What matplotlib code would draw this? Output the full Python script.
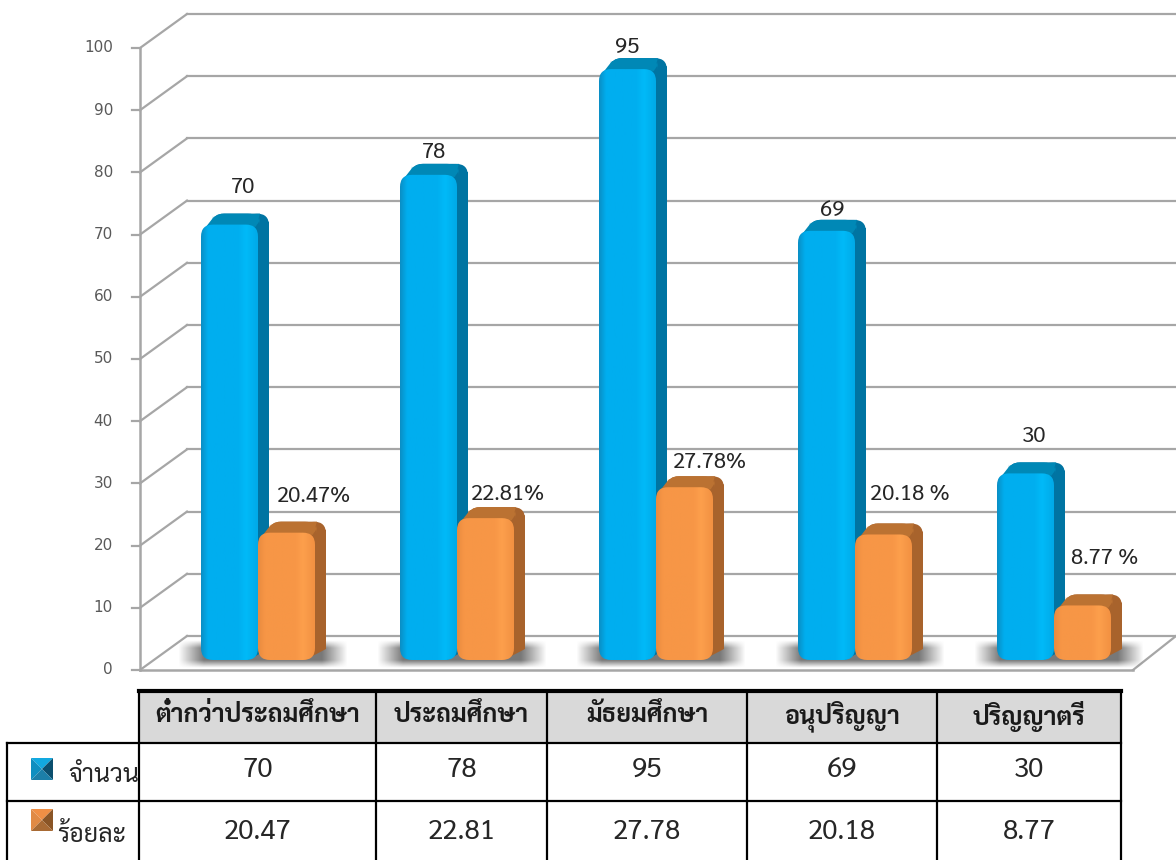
import numpy as np
import matplotlib
matplotlib.use("Agg")
from matplotlib import pyplot as plt
from matplotlib.patches import FancyBboxPatch, Polygon, Rectangle

categories = ["ต่ำกว่าประถมศึกษา", "ประถมศึกษา", "มัธยมศึกษา", "อนุปริญญา", "ปริญญาตรี"]
counts = [70, 78, 95, 69, 30]
percents = [20.47, 22.81, 27.78, 20.18, 8.77]
count_labels = ["70", "78", "95", "69", "30"]
percent_labels = ["20.47%", "22.81%", "27.78%", "20.18 %", "8.77 %"]
table_percents = ["20.47", "22.81", "27.78", "20.18", "8.77"]
series_names = ["จำนวน", "ร้อยละ"]
y_ticks = [0, 10, 20, 30, 40, 50, 60, 70, 80, 90, 100]

plt.rcParams["font.family"] = ["Sarabun", "Anuphan", "DejaVu Sans"]

W, H = 1176, 860
PX = 1 / 199.0      # x data per pixel
PY = 1 / 6.22       # y data per pixel

fig = plt.figure(figsize=(W / 100, H / 100), dpi=100)
ax = fig.add_axes([0, 0, 1, 1])
ax.axis("off")

GRID = "#a6a6a6"
front_x = -118 * PX
back_x = -71 * PX
right_x = (W - 258) * PX
drop = 10 * PY          # front wall sits 10px under the bars
rise = 34 * PY

for v in y_ticks:
    y = v - drop
    ax.plot([front_x, back_x], [y, y + rise], color=GRID, lw=1.6, zorder=1)
    ax.plot([back_x, right_x], [y + rise, y + rise], color=GRID, lw=1.6, zorder=1)
    ax.plot([front_x - 8 * PX, front_x], [y, y], color=GRID, lw=1.6, zorder=1)
    ax.text(front_x - 27 * PX, y, str(v), ha="right", va="center", fontsize=11,
            color="#595959", family="DejaVu Sans")
ax.plot([front_x, front_x], [-drop, 100 - drop], color=GRID, lw=1.8, zorder=1)
ax.plot([front_x, 875 * PX], [-drop, -drop], color=GRID, lw=1.8, zorder=1)
ax.plot([875 * PX, 918 * PX], [-drop, -drop + rise], color=GRID, lw=1.6, zorder=1)

BLUE = dict(front=["#0a8fc6", "#00aeef", "#00aeef", "#00baf8", "#00aae8"], side="#0074a2", top="#0088b6")
ORANGE = dict(front=["#e98b40", "#f79646", "#f79646", "#fd9f4c", "#f29142"], side="#a8632c", top="#bb7232")


def gradient(colors):
    rgb = np.array([matplotlib.colors.to_rgb(c) for c in colors])
    t = np.linspace(0, 1, 64)
    stops = np.array([0, 0.12, 0.65, 0.8, 1])
    return np.stack([np.interp(t, stops, rgb[:, k]) for k in range(3)], axis=1)[None, :, :]


def shadow(x0, x1):
    # soft grey shadow lying on the floor under a pair of bars
    gx, gy = np.meshgrid(np.linspace(-1, 1, 160), np.linspace(-1, 1, 40))
    edge_x = np.clip((1 - np.abs(gx)) / 0.3, 0, 1)
    edge_y = np.clip((1 - np.abs(gy)) / 0.55, 0, 1)
    img = np.zeros((40, 160, 4))
    img[..., :3] = 0.38
    img[..., 3] = edge_x * edge_y * 0.85
    ax.imshow(img, extent=[x0, x1, -8 * PY, 20 * PY], aspect="auto", zorder=2, interpolation="bilinear")


def bar3d(x, w, v, style, z):
    d = 11 * PX
    e = 11 * PY
    rx = 12 * PX
    asp = PY / PX
    box = dict(boxstyle=f"round,pad=0,rounding_size={rx}", mutation_aspect=asp, linewidth=0)
    # side wall: back box plus the strip joining it to the front face
    ax.add_patch(FancyBboxPatch((x + d, e), w, v, facecolor=style["side"], zorder=z, **box))
    ax.add_patch(Polygon([(x + w - 10 * PX, 0), (x + w + d, e), (x + w + d, v + e - 8 * PY), (x + w - 4 * PX, v)],
                         facecolor=style["side"], linewidth=0, zorder=z))
    # top face
    top = FancyBboxPatch((x + d, v + e - 14 * PY), w - 9 * PX, 14 * PY, facecolor=style["top"], zorder=z, **box)
    ax.add_patch(top)
    ax.add_patch(Polygon([(x + 2 * PX, v - 6 * PY), (x + d + 2 * PX, v + e - 3 * PY), (x + w + 2 * PX, v + e),
                          (x + w - 2 * PX, v - 2 * PY)], facecolor=style["top"], linewidth=0, zorder=z))
    # front with horizontal shading
    front = FancyBboxPatch((x, 0), w, v, facecolor="none", zorder=z + 1, **box)
    ax.add_patch(front)
    im = ax.imshow(gradient(style["front"]), extent=[x, x + w, 0, v], aspect="auto", zorder=z + 1,
                   interpolation="bilinear")
    im.set_clip_path(front)


bar_w = 57 * PX
for i in range(len(categories)):
    shadow(i - 80 * PX, i + 90 * PX)
    bar3d(i - bar_w, bar_w, counts[i], BLUE, 3)
    bar3d(i, bar_w, percents[i], ORANGE, 5)

# value labels are placed by hand in the original, so offsets differ per bar
count_dx = [-15, -23, -29, -23, -20]
count_dy = [37, 22, 22, 20, 37]
pct_dx = [55, 50, 53, 55, 51]
pct_dy = [36, 24, 25, 40, 47]
for i in range(len(categories)):
    ax.text(i + count_dx[i] * PX, counts[i] + count_dy[i] * PY, count_labels[i], ha="center", va="center",
            fontsize=16, color="#262626", zorder=8)
    ax.text(i + pct_dx[i] * PX, percents[i] + pct_dy[i] * PY, percent_labels[i], ha="center", va="center",
            fontsize=16, color="#262626", zorder=8)

ax.set_xlim(-258 * PX, (W - 258) * PX)
ax.set_ylim(-200 * PY, 660 * PY)

# table below the chart, in plain pixel coordinates
tb = fig.add_axes([0, 0, 1, 1], facecolor="none")
tb.set_xlim(0, W)
tb.set_ylim(H, 0)
tb.axis("off")
col_x = [139, 376, 547, 747, 937, 1121]
row_y = [691, 743, 801, 860]
tb.add_patch(Rectangle((col_x[0], row_y[0]), col_x[-1] - col_x[0], row_y[1] - row_y[0], facecolor="#d9d9d9", linewidth=0))
tb.plot([col_x[0], col_x[-1]], [row_y[0], row_y[0]], color="black", lw=3)
tb.plot([7, col_x[-1]], [row_y[1], row_y[1]], color="black", lw=1.6)
tb.plot([7, col_x[-1]], [row_y[2], row_y[2]], color="black", lw=1.6)
tb.plot([7, 7], [row_y[1], H], color="black", lw=1.6)
for x in col_x:
    tb.plot([x, x], [row_y[0], H], color="black", lw=1.6)

for i in range(len(categories)):
    cx = (col_x[i] + col_x[i + 1]) / 2
    tb.text(cx, 716, categories[i], ha="center", va="center", fontsize=18, fontweight="bold", color="#1a1a1a")
    tb.text(cx, 770, count_labels[i], ha="center", va="center", fontsize=20, color="#262626")
    tb.text(cx, 832, table_percents[i], ha="center", va="center", fontsize=20, color="#262626")


def swatch(x, y, s, c_top, c_left, c_right, c_bot):
    cx, cy = x + s / 2, y + s / 2
    tb.add_patch(Polygon([(x, y), (x + s, y), (cx, cy)], facecolor=c_top, linewidth=0))
    tb.add_patch(Polygon([(x, y), (x, y + s), (cx, cy)], facecolor=c_left, linewidth=0))
    tb.add_patch(Polygon([(x + s, y), (x + s, y + s), (cx, cy)], facecolor=c_right, linewidth=0))
    tb.add_patch(Polygon([(x, y + s), (x + s, y + s), (cx, cy)], facecolor=c_bot, linewidth=0))


swatch(31, 758, 22, "#12a9e0", "#0f8fc0", "#0b4f6e", "#1c7fa8")
swatch(31, 809, 22, "#f08f45", "#e08a45", "#8a5526", "#a86a34")
tb.text(68, 775, series_names[0], ha="left", va="center", fontsize=18, color="#262626")
tb.text(57, 836, series_names[1], ha="left", va="center", fontsize=18, color="#262626")

fig.savefig("out.png", dpi=100)
